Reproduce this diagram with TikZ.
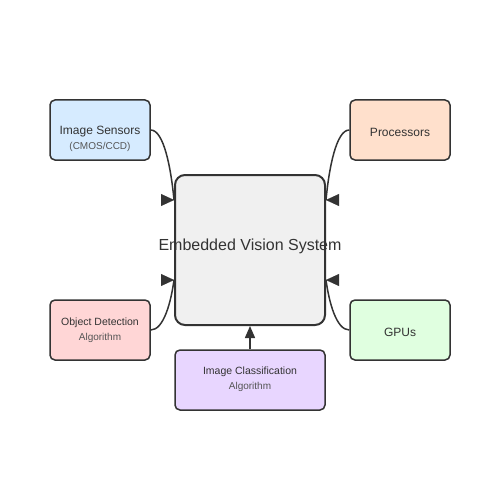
\documentclass[tikz,border=0pt]{standalone}
\usepackage{fontspec}
\setmainfont{Liberation Sans}
\usepackage{tikz}
\usetikzlibrary{arrows.meta, positioning, calc}
\definecolor{edge}{HTML}{333333}
\definecolor{subtext}{HTML}{555555}
\definecolor{sensfill}{HTML}{D6EBFF}
\definecolor{procfill}{HTML}{FFE0CC}
\definecolor{corefill}{HTML}{F0F0F0}
\definecolor{detfill}{HTML}{FFD6D6}
\definecolor{gpufill}{HTML}{E0FFE0}
\definecolor{clsfill}{HTML}{E8D6FF}
\tikzset{
  box/.style={draw=edge, line width=1.5pt, rounded corners=5pt, minimum width=100pt, minimum height=60pt, inner sep=0pt},
  core/.style={draw=edge, line width=2pt, rounded corners=10pt, fill=corefill, minimum width=150pt, minimum height=150pt, inner sep=0pt},
  main/.style={text=edge, font=\fontsize{12}{14}\selectfont, inner sep=0pt},
  sub/.style={text=subtext, font=\fontsize{10}{12}\selectfont, inner sep=0pt},
  link/.style={draw=edge, line width=1.5pt},
  head/.style={draw=edge, line width=0.1pt, -{Triangle[length=13pt,width=12pt]}}
}
\begin{document}
\begin{tikzpicture}[x=1pt,y=-1pt]
\useasboundingbox[fill=white] (0,0) rectangle (500,500);
% boxes
\node[core] (vision) at (250,250) {};
\node[box, fill=sensfill] (sensors) at (100,130) {};
\node[box, fill=procfill] (procs) at (400,130) {};
\node[box, fill=detfill] (detect) at (100,330) {};
\node[box, fill=gpufill] (gpus) at (400,330) {};
\node[box, fill=clsfill, minimum width=150pt] (classif) at (250,380) {};
% texts
\node[main, font=\fontsize{16}{18}\selectfont] (visionT) at (250,246) {Embedded Vision System};
\node[main] (sensorsT) at (100,132) {Image Sensors};
\node[sub] (sensorsS) at (100,147) {(CMOS/CCD)};
\node[main] (procsT) at (400,132) {Processors};
\node[main, font=\fontsize{10.5}{12}\selectfont] (detectT) at (100,323) {Object Detection};
\node[sub] (detectS) at (100,338) {Algorithm};
\node[main] (gpusT) at (400,332) {GPUs};
\node[main, font=\fontsize{10.5}{12}\selectfont] (classifT) at (250,372) {Image Classification};
\node[sub] (classifS) at (250,387) {Algorithm};
% inputs on the core box
\coordinate (inA) at (vision.west |- 0,200);
\coordinate (inB) at (vision.east |- 0,200);
\coordinate (inC) at (vision.west |- 0,280);
\coordinate (inD) at (vision.east |- 0,280);
% connectors
\draw[link] (sensors.east) .. controls +(13,0) and +(-3,-32) .. (inA);
\draw[link] (procs.west) .. controls +(-13,0) and +(3,-32) .. (inB);
\draw[link] (detect.east) .. controls +(13,0) and +(-3,22) .. (inC);
\draw[link] (gpus.west) .. controls +(-13,0) and +(3,22) .. (inD);
\draw[link, -{Triangle[length=12pt,width=10pt]}] (classif.north) -- (vision.south);
% arrow heads
\draw[head] ([xshift=-12pt]inA) -- (inA);
\draw[head] ([xshift=12pt]inB) -- (inB);
\draw[head] ([xshift=-12pt]inC) -- (inC);
\draw[head] ([xshift=12pt]inD) -- (inD);
\end{tikzpicture}
\end{document}
